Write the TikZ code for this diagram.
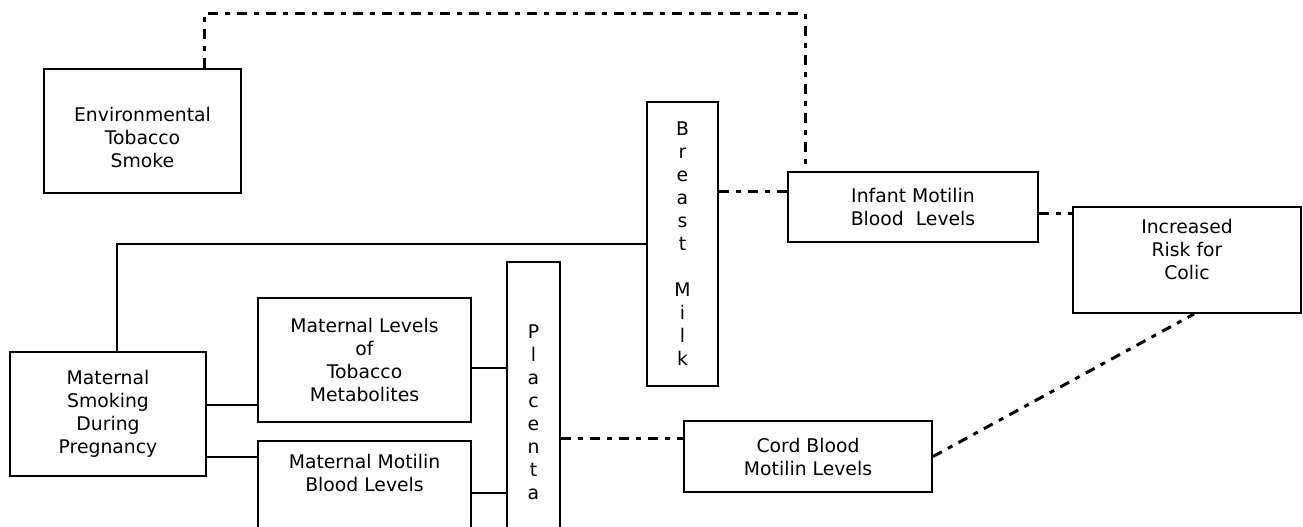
\documentclass[tikz,border=0pt]{standalone}
\usepackage{fontspec}
\setmainfont{DejaVu Sans}
\usetikzlibrary{positioning,calc}
\tikzset{
  box/.style={draw, line width=2pt, align=center, inner sep=0pt,
    font=\fontsize{18.8}{23}\selectfont},
  link/.style={line width=2pt},
  dashlink/.style={line width=3pt, dash pattern=on 10pt off 7pt on 5pt off 7pt}
}

\begin{document}
\begin{tikzpicture}[x=1pt, y=-1pt]
  \useasboundingbox (0,0) rectangle (1303,527);

  % Boxes
  \node[box, minimum width=197, minimum height=124] (env) at (142.5,131)
    {\mbox{}\\[4pt]Environmental\\Tobacco\\Smoke};
  \node[box, minimum width=196, minimum height=124] (smoking) at (108,414)
    {Maternal\\Smoking\\During\\Pregnancy};
  \node[box, minimum width=213, minimum height=124] (metab) at (364.5,360)
    {Maternal Levels\\of\\Tobacco\\Metabolites};
  \node[box, minimum width=213, minimum height=104] (motilin) at (364.5,493)
    {Maternal Motilin\\Blood Levels\\[18pt]\mbox{}};
  \node[box, minimum width=53, minimum height=300] (placenta) at (533.5,412)
    {P\\l\\a\\c\\e\\n\\t\\a};
  \node[box, minimum width=71, minimum height=284] (breast) at (682.5,244)
    {B\\r\\e\\a\\s\\t\\[23pt]M\\i\\l\\k};
  \node[box, minimum width=250, minimum height=70] (infant) at (913,207)
    {Infant Motilin\\Blood~ Levels};
  \node[box, minimum width=248, minimum height=71] (cord) at (808,456.5)
    {Cord Blood\\Motilin Levels};
  \node[box, minimum width=228, minimum height=106] (colic) at (1187,260)
    {Increased\\Risk for\\Colic\\[-2pt]\mbox{}};

  % Solid links
  \draw[link] ([xshift=9pt]smoking.north) |- (breast.west);
  \draw[link] ([yshift=9pt]smoking.east) -- ([yshift=9pt]smoking.east -| metab.west);
  \draw[link] ([yshift=-43pt]smoking.east) -- ([yshift=-43pt]smoking.east -| motilin.west);
  \draw[link] ([yshift=-8pt]metab.east) -- ([yshift=-8pt]metab.east -| placenta.west);
  \draw[link] (motilin.east) -- (motilin.east -| placenta.west);

  % Dashed links
  \draw[dashlink] ([xshift=61.5pt]env.north) -- ++(0,-54) -| ([xshift=-108pt]infant.north);
  \draw[dashlink] ([yshift=16pt]infant.west -| breast.east) -- ([yshift=16pt]infant.west);
  \draw[dashlink] ([yshift=-6pt]infant.east) -- ([yshift=-6pt]infant.east -| colic.west);
  \draw[dashlink] ([yshift=18.5pt]cord.west -| placenta.east) -- ([yshift=18.5pt]cord.west);
  \draw[dashlink] (cord.east) -- ([xshift=7pt]colic.south);
\end{tikzpicture}
\end{document}
